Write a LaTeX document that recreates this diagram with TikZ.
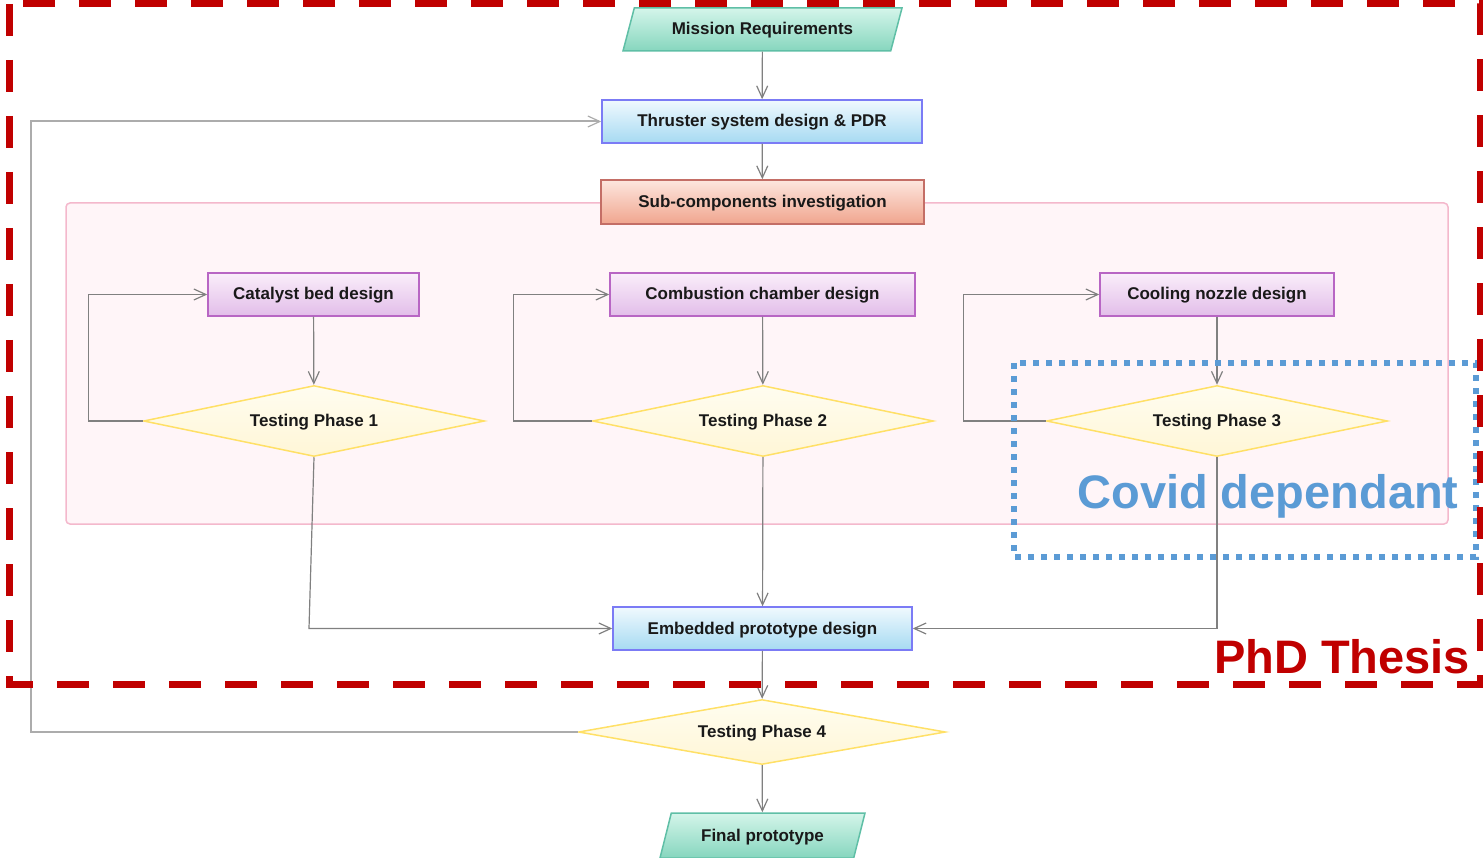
\documentclass[tikz,border=0pt]{standalone}
\usepackage{fontspec}
\setmainfont{Liberation Sans}
\usepackage{tikz}
\usetikzlibrary{shapes.geometric}
\usetikzlibrary{arrows.meta}

\definecolor{flowgray}{HTML}{808080}
\definecolor{thesisred}{HTML}{C00000}
\definecolor{covidblue}{HTML}{5B9BD5}
\definecolor{ioline}{HTML}{5FBFA6}
\definecolor{iotop}{HTML}{D4F5EA}
\definecolor{iobottom}{HTML}{86D6BE}
\definecolor{blueline}{HTML}{7B7BF5}
\definecolor{bluetop}{HTML}{F0F9FE}
\definecolor{bluebottom}{HTML}{A6DAF2}
\definecolor{subline}{HTML}{C46E66}
\definecolor{subtop}{HTML}{FDE6DE}
\definecolor{subbottom}{HTML}{F0A58E}
\definecolor{partline}{HTML}{B866C4}
\definecolor{parttop}{HTML}{FAEEFA}
\definecolor{partbottom}{HTML}{E2BDE9}
\definecolor{testline}{HTML}{FFE066}
\definecolor{testtop}{HTML}{FFFDF0}
\definecolor{testbottom}{HTML}{FFF6D6}
\definecolor{groupline}{HTML}{F4B8CC}
\definecolor{groupfill}{HTML}{FFF5F8}

\begin{document}
\begin{tikzpicture}[x=1pt, y=-1pt,
    every node/.style={font=\fontsize{17}{20}\selectfont\bfseries, text=black!90},
    boxtext/.style={text height=13pt, text depth=2pt},
    iobox/.style={boxtext, trapezium, trapezium left angle=53, trapezium right angle=127,
        trapezium stretches body, draw=ioline, line width=1.5pt,
        top color=iotop, bottom color=iobottom, inner sep=0pt},
    bluebox/.style={boxtext, rectangle, draw=blueline, line width=1.5pt,
        top color=bluetop, bottom color=bluebottom, minimum height=43pt},
    subbox/.style={boxtext, rectangle, draw=subline, line width=1.5pt,
        top color=subtop, bottom color=subbottom, minimum height=44pt},
    partbox/.style={boxtext, rectangle, draw=partline, line width=1.5pt,
        top color=parttop, bottom color=partbottom, minimum height=43pt},
    testbox/.style={boxtext, diamond, aspect=4.8, draw=testline, line width=1.5pt,
        top color=testtop, bottom color=testbottom, inner sep=0pt,
        minimum width=341pt, minimum height=71pt},
    flow/.style={draw=flowgray, line width=1.2pt,
        -{Straight Barb[length=12pt, width=11pt, line width=1.2pt]}}
  ]
  \useasboundingbox (0,0) rectangle (1483,858);

  % sub-components container
  \draw[draw=groupline, fill=groupfill, line width=1.5pt, rounded corners=4pt]
      (66,203) rectangle (1448,524);

  \node[iobox, minimum width=279pt, minimum height=43pt] (mission) at (762.5,29.5) {Mission Requirements};
  \node[bluebox, minimum width=320pt] (thruster) at (762,121.5) {Thruster system design \& PDR};
  \node[subbox, minimum width=323pt] (subcomp) at (762.5,202) {Sub-components investigation};

  \node[partbox, minimum width=211pt] (catalyst) at (313.5,294.5) {Catalyst bed design};
  \node[partbox, minimum width=305pt] (combustion) at (762.5,294.5) {Combustion chamber design};
  \node[partbox, minimum width=234pt] (cooling) at (1217,294.5) {Cooling nozzle design};

  \node[testbox] (tp1) at (314,421) {Testing Phase 1};
  \node[testbox] (tp2) at (763,421) {Testing Phase 2};
  \node[testbox] (tp3) at (1217,421) {Testing Phase 3};

  \node[bluebox, minimum width=299pt] (embedded) at (762.5,628.5) {Embedded prototype design};
  \node[testbox, minimum width=367pt, minimum height=65pt, aspect=5.6] (tp4) at (762,732) {Testing Phase 4};
  \node[iobox, minimum width=205pt, minimum height=45pt] (final) at (762.5,835.5) {Final prototype};

  % connectors
  \draw[flow] (mission) -- (thruster);
  \draw[flow] (thruster) -- (subcomp);
  \draw[flow] (catalyst) -- (tp1);
  \draw[flow] (combustion) -- (tp2);
  \draw[flow] (cooling) -- (tp3);
  \draw[flow] (tp1.west) -- ++(-54,0) |- (catalyst.west);
  \draw[flow] (tp2.west) -- ++(-78,0) |- (combustion.west);
  \draw[flow] (tp3.west) -- ++(-82,0) |- (cooling.west);
  \draw[flow] (tp1.south) -- ([xshift=-5pt]tp1.south |- embedded.west) -- (embedded.west);
  \draw[flow] (tp2) -- (embedded);
  \draw[flow] (tp3.south) |- (embedded.east);
  \draw[flow] (embedded) -- (tp4);
  \draw[flow] (tp4) -- (final);
  \draw[flow, draw=flowgray!65, line width=2pt] (tp4.west) -- ++(-547,0) |- (thruster.west);

  % covid box
  \draw[covidblue, line width=6pt, dash pattern=on 6pt off 7pt]
      (1014,363) rectangle (1476,557);
  \node[font=\fontsize{47}{50}\selectfont\bfseries, text=covidblue] (covid) at (1268,496) {Covid dependant};

  % thesis scope
  \draw[thesisred, line width=7pt, dash pattern=on 32pt off 24pt]
      (9,4) rectangle (1480,684);
  \node[font=\fontsize{47}{50}\selectfont\bfseries, text=thesisred] (thesis) at (1342,657) {PhD Thesis};
\end{tikzpicture}
\end{document}
